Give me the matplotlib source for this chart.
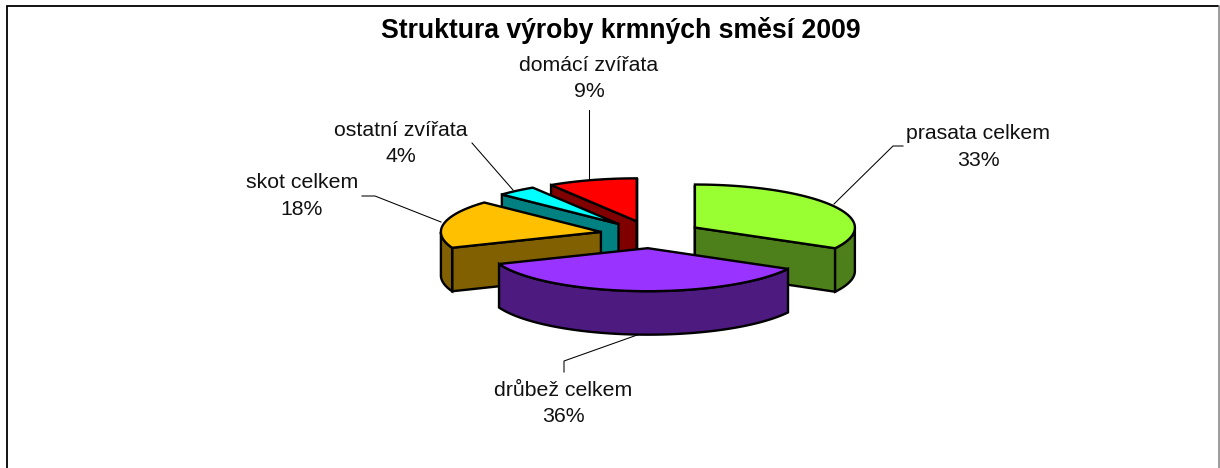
import numpy as np
import matplotlib
matplotlib.use("Agg")
import matplotlib.pyplot as plt
from matplotlib.patches import Polygon

plt.rcParams['font.family'] = ['Liberation Sans', 'DejaVu Sans']

# ---- data ----
title = "Struktura výroby krmných směsí 2009"
categories = ["prasata celkem", "drůbež celkem", "skot celkem", "ostatní zvířata", "domácí zvířata"]
values = [33, 36, 18, 4, 9]
top_colors = ["#99FF33", "#9933FF", "#FFC000", "#00FFFF", "#FF0000"]
side_colors = ["#4D7F1A", "#4D1A7F", "#806000", "#008080", "#800000"]
label_pos = [(978, 147), (563, 403.5), (302, 196), (401, 143.5), (589, 78.5)]
leaders = [
    [(834, 204), (893, 146), (903, 146)],
    [(640, 334), (564, 361), (564, 372)],
    [(441, 222), (375, 196), (362, 196)],
    [(513, 190), (472, 143), (472, 143)],
    [(589, 180), (589, 110), (589, 110)],
]

# ---- layout of the projected pie ----
CX, CY = 651.0, 234.5     # pie centre in pixels
A, B = 160.0, 43.0        # ellipse half axes
DEPTH = 43.5              # height of the walls
EXPLODE = 51.0 / 160.0    # share of the radius
LW = 1.7

W, H = 1220, 468
fig = plt.figure(figsize=(W / 100, H / 100), dpi=100)
ax = fig.add_axes([0, 0, 1, 1])
ax.set_xlim(0, W)
ax.set_ylim(H, 0)
ax.axis("off")


def pt(center, deg, r=1.0):
    t = np.radians(deg)
    return center[0] + r * A * np.sin(t), center[1] - r * B * np.cos(t)


def shifted(pts):
    return [(x, y + DEPTH) for x, y in pts]


def face(pts, fc, z):
    ax.add_patch(Polygon(pts, closed=True, facecolor=fc, edgecolor="black",
                         linewidth=LW, joinstyle="miter", zorder=z))


# angles: clockwise from the top
total = sum(values)
bounds = np.concatenate([[0], np.cumsum(values)]) * 360.0 / total

# back slices first, front slice last
order = [4, 3, 2, 0, 1]
for z, i in enumerate(order):
    a0, a1 = bounds[i], bounds[i + 1]
    mid = (a0 + a1) / 2
    c = pt((CX, CY), mid, EXPLODE)
    zb = 5 + z * 5
    arc_deg = np.linspace(a0, a1, 120)
    arc = [pt(c, d) for d in arc_deg]

    # radial walls
    if np.sin(np.radians(a0)) <= 1e-9:
        p = [c, pt(c, a0)]
        face(p + shifted(p)[::-1], side_colors[i], zb)
    if np.sin(np.radians(a1)) >= -1e-9:
        p = [c, pt(c, a1)]
        face(p + shifted(p)[::-1], side_colors[i], zb + 1)
    # outer wall (front part of the rim only)
    vis = arc_deg[np.cos(np.radians(arc_deg)) < 0]
    if len(vis) > 1:
        rim = [pt(c, d) for d in vis]
        face(rim + shifted(rim)[::-1], side_colors[i], zb + 2)
    # top surface
    face([c] + arc, top_colors[i], zb + 3)

# ---- labels and leader lines ----
for name, v, (x, y), line in zip(categories, values, label_pos, leaders):
    ax.text(x, y, f"{name}\n{v}%", ha="center", va="center", fontsize=15.3,
            color="#111111", linespacing=1.5, zorder=60)
    xs, ys = zip(*line)
    ax.plot(xs, ys, color="black", lw=0.75, zorder=2, solid_joinstyle="miter")

ax.text(621, 30, title, ha="center", va="center", fontsize=19.2,
        fontweight="bold", color="black", zorder=60)

# ---- chart frame ----
ax.plot([7, 7, 1218], [H, 5.5, 5.5], color="black", lw=1.3, zorder=1,
        solid_joinstyle="miter")
ax.plot([1218.9, 1218.9], [5.5, H], color="#808080", lw=1.1, zorder=1)

fig.savefig("out.png", dpi=100)
